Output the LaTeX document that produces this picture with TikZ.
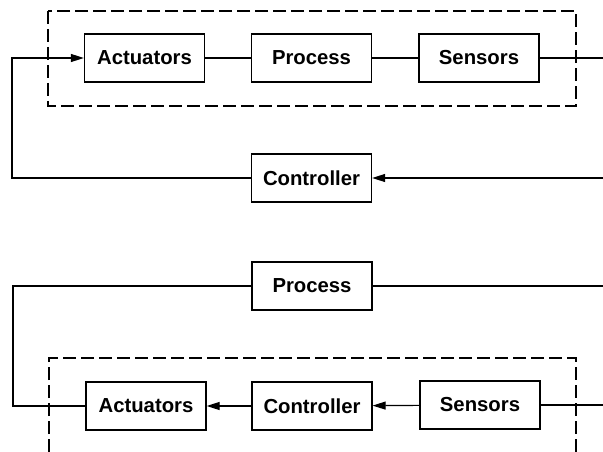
\documentclass[tikz,border=0pt]{standalone}
\usepackage{fontspec}
\setmainfont{Liberation Sans}
\usetikzlibrary{arrows.meta}
\begin{document}
\begin{tikzpicture}[x=1pt,y=-1pt,
  blk/.style={draw, line width=1.3pt, minimum width=120pt, minimum height=48pt, inner sep=0pt,
    font=\fontsize{20.3}{24}\selectfont\bfseries},
  conn/.style={line width=1.2pt},
  arr/.style={conn, -{Triangle[length=13pt,width=8pt]}},
  grp/.style={draw, line width=1.3pt, dash pattern=on 13pt off 5pt}]
\useasboundingbox (0,0) rectangle (603,452);
% ---------- top diagram ----------
\draw[grp] (48,11) rectangle (576,106);
\node[blk] (A1) at (144.5,58) {Actuators};
\node[blk] (P1) at (311.5,58) {Process};
\node[blk] (S1) at (479,58) {Sensors};
\node[blk] (C1) at (311.5,178) {Controller};
\coordinate (r1) at (603,58);
\coordinate (r2) at (603,178);
\coordinate (lc) at (12,178);
\coordinate (la) at (12,58);
\draw[conn] (A1) -- (P1);
\draw[conn] (P1) -- (S1);
\draw[conn] (S1) -- (r1);
\draw[arr] (r2) -- (C1.east);
\draw[arr] (C1.west) -- (lc) -- (la) -- (A1.west);
% ---------- bottom diagram ----------
\draw[grp] (49,452) -- (49,358) -- (576,358) -- (576,452);
\node[blk] (P2) at (312,286) {Process};
\node[blk] (A2) at (146,406) {Actuators};
\node[blk] (C2) at (312,406) {Controller};
\node[blk] (S2) at (480,405) {Sensors};
\coordinate (r3) at (603,286);
\coordinate (r4) at (603,405);
\coordinate (lb) at (13,406);
\coordinate (lp) at (13,286);
\draw[arr] (C2) -- (A2);
\draw[arr] (S2) -- (C2);
\draw[conn] (S2) -- (r4);
\draw[conn] (A2.west) -- (lb) -- (lp) -- (P2.west);
\draw[conn] (P2.east) -- (r3);
\end{tikzpicture}
\end{document}
